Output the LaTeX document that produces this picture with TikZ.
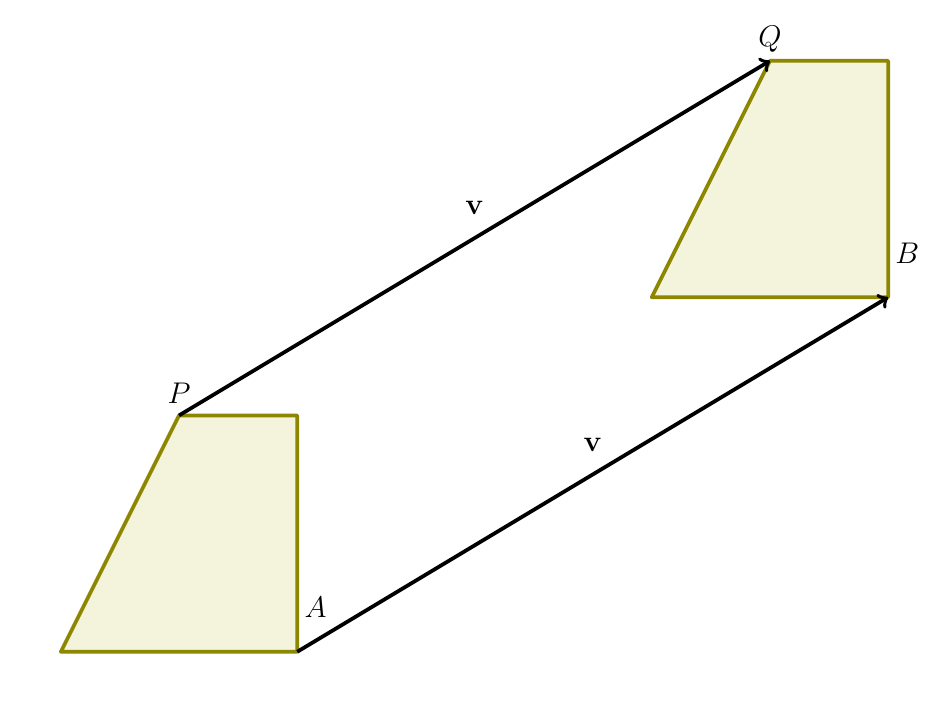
\documentclass[tikz,border=0pt]{standalone}
\usepackage{tikz}

\begin{document}
\begin{tikzpicture}[
        trap/.style={line width=1.8pt, draw=olive, fill=olive!10, line join=round},
        vec/.style={->, line width=1.8pt, black},
        lbl/.style={font=\Large}
    ]
        \useasboundingbox (-1.03,-1.03) rectangle (15.03,11.03);

        % Original shape
        \coordinate (O) at (0,0);
        \coordinate (A) at (4,0);
        \coordinate (C) at (4,4);
        \coordinate (P) at (2,4);
        \draw [trap] (O) -- (A) -- (C) -- (P) -- cycle;

        % Translated shape
        \coordinate (O2) at (10,6);
        \coordinate (B) at (14,6);
        \coordinate (C2) at (14,10);
        \coordinate (Q) at (12,10);
        \draw [trap] (O2) -- (B) -- (C2) -- (Q) -- cycle;

        % Vectors
        \draw [vec] (P) -- (Q) node [midway, above=7pt, lbl] {$\mathbf{v}$};
        \draw [vec] (A) -- (B) node [midway, above=7pt, lbl] {$\mathbf{v}$};

        % Labels
        \node [lbl, above=2pt] (Plbl) at (P) {$P$};
        \node [lbl, above=0.5pt] (Qlbl) at (Q) {$Q$};
        \node [lbl, right] (Albl) at (4,0.75) {$A$};
        \node [lbl, right] (Blbl) at (14,6.75) {$B$};
    \end{tikzpicture}
\end{document}
